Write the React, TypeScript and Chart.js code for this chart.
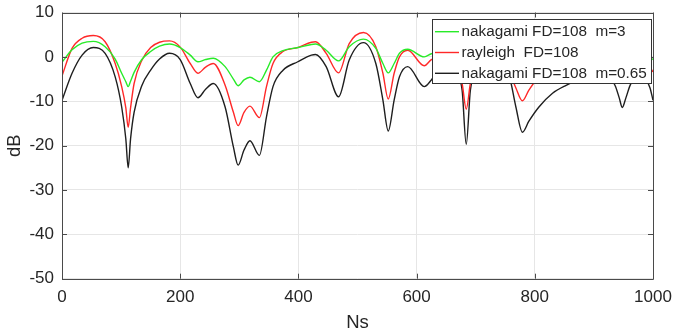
import React, { useEffect, useRef } from "react";
import { Chart, registerables } from "chart.js";

Chart.register(...registerables);

const ns = [
  0, 17, 34, 53, 73, 90, 101, 108, 112, 116,
  122, 135, 150, 165, 182, 200, 217, 230, 243, 256,
  276, 290, 298, 308, 318, 334, 346, 357, 374, 399,
  422, 429, 447, 468, 486, 510, 531, 543, 552, 562,
  571, 585, 613, 625, 640, 655, 668, 677, 684, 691,
  700, 715, 730, 745, 757, 768, 779, 790, 807, 830,
  853, 870, 900, 925, 936, 943, 948, 954, 962, 975,
  988, 995, 1000,
];

const nakagamiM3 = [
  -1.2, 1.6, 3.1, 3.5, 2.3, -0.5, -3.7, -5.6, -6.7, -5.5,
  -3.5, -0.6, 1.2, 2.4, 2.9, 2.1, 0.4, -1.1, -0.6, -0.3,
  -2.2, -5, -6.5, -5.2, -4.6, -5.6, -3, 0, 1.4, 2.1,
  2.8, 2.9, 1.5, -0.9, 2.3, 4, 1.9, -1.5, -3.6, -1.5,
  0.8, 1.7, 0, 0.7, 1, 0.8, -1, -3, -4.8, -3,
  -0.8, 1, 1.3, 0.3, -1.5, -3, -4, -3, -1, 0.5,
  1.2, 1.5, 1.6, 1, 0.2, -0.3, -0.5, -0.3, 0.3, 0.5,
  0.2, -0.2, -0.6,
];

const rayleigh = [
  -4.3, 1.9, 4.2, 4.8, 3.4, -1.5, -6.7, -11.5, -15.9, -11.5,
  -6, -0.8, 2.1, 3.3, 3.6, 2.2, -1.5, -3.7, -2.3, -1.5,
  -6.4, -12.5, -15.5, -12.5, -11.1, -13.7, -6.7, -1.5, 1.2, 2.1,
  3.3, 3.4, 0.8, -3.6, 3, 5.5, 2.3, -3.7, -9.5, -3.7,
  0, 1.5, -2, -0.6, 0, 0, -2.5, -6, -11.8, -6,
  -2, 0.5, 0.8, -0.8, -3.5, -7, -9.9, -7.5, -4.5, -2,
  -0.8, 0, 0.5, 0, -1.5, -2.5, -3, -2.5, -1, -0.5,
  -1.3, -2.4, -3.4,
];

const nakagamiM065 = [
  -9.8, -3.7, 0.4, 2.1, 0.8, -4.5, -11.3, -18.5, -25, -18.5,
  -12.5, -6.5, -3, -0.5, 0.8, -0.6, -6, -9.2, -7.3, -6,
  -11.3, -20.3, -24.4, -21, -18.9, -22.2, -13.5, -6.7, -3, -1.1,
  0.4, 0.55, -2.2, -9, -0.7, 3.2, -1.5, -9.75, -16.7, -9.75,
  -4.5, -2.2, -6.7, -5.2, -2.5, -2.2, -4, -7.5, -19.7, -7.5,
  -4, -2.5, -2, -2.8, -4.5, -11.3, -17, -14.5, -11.3, -8.2,
  -6.4, -5.4, -4, -4.5, -6.5, -9.3, -11.4, -9.3, -6.2, -4.5,
  -5.2, -7, -9.8,
];

const seriesLabels = [
  "nakagami FD=108  m=3",
  "rayleigh  FD=108",
  "nakagami FD=108  m=0.65",
];
const seriesColors = ["rgb(40,235,40)", "rgb(255,40,40)", "rgb(30,30,30)"];

const xTicks = [0, 200, 400, 600, 800, 1000];
const yTicks = [10, 0, -10, -20, -30, -40, -50];

const FONT = "'Liberation Sans', Arial, Helvetica, sans-serif";
const TEXT = "#262626";

const boxPlugin = {
  id: "matlabBox",
  afterDatasetsDraw(chart: any) {
    const { ctx, chartArea, scales } = chart;
    const { left, right, top, bottom } = chartArea;
    ctx.save();
    ctx.strokeStyle = "#4a4a4a";
    ctx.lineWidth = 1;
    ctx.beginPath();
    ctx.rect(Math.round(left) + 0.5, Math.round(top) + 0.5, Math.round(right - left), Math.round(bottom - top));
    ctx.stroke();
    const tl = 5;
    ctx.beginPath();
    xTicks.forEach((v) => {
      const px = Math.round(scales.x.getPixelForValue(v)) + 0.5;
      ctx.moveTo(px, bottom);
      ctx.lineTo(px, bottom - tl);
      ctx.moveTo(px, top);
      ctx.lineTo(px, top + tl);
    });
    yTicks.forEach((v) => {
      const py = Math.round(scales.y.getPixelForValue(v)) + 0.5;
      ctx.moveTo(left, py);
      ctx.lineTo(left + tl, py);
      ctx.moveTo(right, py);
      ctx.lineTo(right - tl, py);
    });
    ctx.stroke();

    // legend
    const lx = 432, ly = 19, lw = 219, lh = 64;
    ctx.fillStyle = "#ffffff";
    ctx.fillRect(lx, ly, lw, lh);
    ctx.strokeStyle = "#333333";
    ctx.strokeRect(lx + 0.5, ly + 0.5, lw, lh);
    ctx.font = `15.3px ${FONT}`;
    ctx.textBaseline = "middle";
    ctx.textAlign = "left";
    seriesLabels.forEach((lab, i) => {
      const y = 31.7 + i * 20.8;
      ctx.strokeStyle = seriesColors[i];
      ctx.lineWidth = 1.4;
      ctx.beginPath();
      ctx.moveTo(435, y);
      ctx.lineTo(459, y);
      ctx.stroke();
      ctx.fillStyle = TEXT;
      ctx.fillText(lab, 461.5, y + 0.5);
    });
    ctx.restore();
  },
};

export default function App() {
  const ref = useRef<HTMLCanvasElement | null>(null);
  useEffect(() => {
    if (!ref.current) return;
    const series = [nakagamiM3, rayleigh, nakagamiM065];
    const chart = new Chart(ref.current, {
      type: "line",
      data: {
        datasets: series.map((vals, i) => ({
          label: seriesLabels[i],
          data: ns.map((x, k) => ({ x, y: vals[k] })),
          borderColor: seriesColors[i],
          borderWidth: 1.4,
          pointRadius: 0,
          fill: false,
          cubicInterpolationMode: "monotone" as const,
        })),
      },
      options: {
        responsive: false,
        animation: false,
        devicePixelRatio: 1,
        layout: { padding: { top: 12.5, right: 23, left: 0, bottom: 0 } },
        plugins: { legend: { display: false }, tooltip: { enabled: false } },
        scales: {
          x: {
            type: "linear",
            min: 0,
            max: 1000,
            afterBuildTicks: (s: any) => {
              s.ticks = xTicks.map((v) => ({ value: v }));
            },
            afterFit: (s: any) => {
              s.height = 54.3;
              s.paddingLeft = 0;
              s.paddingRight = 0;
            },
            ticks: {
              font: { size: 17, family: FONT },
              color: TEXT,
              padding: 8,
              maxRotation: 0,
              callback: (v: any) => String(v),
            },
            grid: { color: "#e6e6e6", drawTicks: false },
            border: { display: false },
            title: {
              display: true,
              text: "Ns",
              font: { size: 18.5, family: FONT },
              color: TEXT,
              padding: { top: 0, bottom: -1 },
            },
          },
          y: {
            type: "linear",
            min: -50,
            max: 10,
            afterBuildTicks: (s: any) => {
              s.ticks = yTicks.slice().reverse().map((v) => ({ value: v }));
            },
            afterFit: (s: any) => {
              s.width = 62;
              s.paddingTop = 0;
              s.paddingBottom = 0;
            },
            ticks: {
              font: { size: 17, family: FONT },
              color: TEXT,
              padding: 8,
              callback: (v: any) => String(v),
            },
            grid: { color: "#e6e6e6", drawTicks: false },
            border: { display: false },
            title: {
              display: true,
              text: "dB",
              font: { size: 18.5, family: FONT },
              color: TEXT,
              padding: { top: 4, bottom: 0 },
            },
          },
        },
      },
      plugins: [boxPlugin],
    });
    return () => chart.destroy();
  }, []);
  return (
    <div style={{ position: "absolute", left: 0, top: 0, width: 676, height: 333 }}>
      <canvas ref={ref} width={676} height={333} style={{ width: 676, height: 333 }} />
    </div>
  );
}
